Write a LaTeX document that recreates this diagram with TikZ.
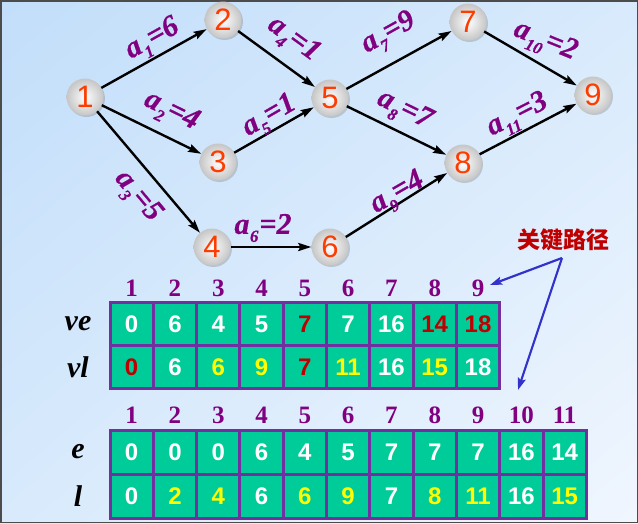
\documentclass[tikz,border=0pt]{standalone}
\usepackage{fontspec}
\setmainfont{Liberation Serif}
\setsansfont{Liberation Sans}
\newfontfamily\cjkfont{Noto Sans CJK SC}
\newfontfamily\labfont{Liberation Serif}[UprightFont=* Bold Italic, FakeBold=0.6]
\usetikzlibrary{arrows.meta,shadows,shadings}
\definecolor{bgA}{RGB}{194,222,250}
\definecolor{bgM}{RGB}{216,234,252}
\definecolor{bgB}{RGB}{240,246,254}
\definecolor{numred}{RGB}{255,60,0}
\definecolor{lblpurple}{RGB}{128,0,128}
\definecolor{cellgreen}{RGB}{0,204,153}
\definecolor{cellborder}{RGB}{112,48,160}
\definecolor{cw}{RGB}{255,255,255}
\definecolor{cr}{RGB}{192,0,0}
\definecolor{cy}{RGB}{255,255,0}
\definecolor{keyred}{RGB}{192,0,0}
\definecolor{keyblue}{RGB}{51,51,204}
\newcommand\ea[2]{a\kern0.5pt\raisebox{-8pt}{\fontsize{17}{17}\selectfont #1}\kern1pt=#2}
\tikzset{
  vnode/.style={circle, minimum size=37pt, inner sep=0pt, shading=radial,
    inner color=white, outer color=gray!45,
    drop shadow={shadow xshift=1.5pt, shadow yshift=-1.5pt, opacity=0.35},
    text=numred, font=\sffamily\fontsize{31}{31}\selectfont},
  earrow/.style={draw=black, line width=2.4pt, -{Stealth[length=13pt,width=8pt,inset=2pt]}},
  elab/.style={text=lblpurple, inner sep=0pt, font=\labfont\fontsize{30}{30}\selectfont},
  hdr/.style={text=lblpurple, inner sep=0pt, font=\bfseries\fontsize{25}{25}\selectfont},
  rowlab/.style={text=black, inner sep=0pt, font=\bfseries\itshape\fontsize{30}{30}\selectfont},
  cellbox/.style={draw=cellborder, line width=3pt, fill=cellgreen, inner sep=0pt,
    minimum width=43.3pt, font=\sffamily\bfseries\fontsize{24}{24}\selectfont},
  keytext/.style={text=keyred, inner sep=1pt, font=\cjkfont\bfseries\fontsize{23}{23}\selectfont},
  keyarrow/.style={draw=keyblue, line width=2.2pt, -{Stealth[length=12pt,width=8pt,inset=2pt]}}
}
\begin{document}
\begin{tikzpicture}[x=1pt,y=-1pt]
\useasboundingbox (0,0) rectangle (638,523);
\shade[upper left=bgA, upper right=bgM, lower left=bgM, lower right=bgB] (0,0) rectangle (638,523);
\draw[gray!60!black, line width=1.5pt] (0.75,0.75) rectangle (637.25,522.25);

% vertices
\node[vnode] (n1) at (85,97) {1};
\node[vnode] (n2) at (223,20) {2};
\node[vnode] (n3) at (218,162) {3};
\node[vnode] (n4) at (212,247) {4};
\node[vnode] (n5) at (330,98) {5};
\node[vnode] (n6) at (330,247) {6};
\node[vnode] (n7) at (468,22) {7};
\node[vnode] (n8) at (463,163) {8};
\node[vnode] (n9) at (593,95) {9};

% edges
\draw[earrow] (n1) -- (n2);
\draw[earrow] (n1) -- (n3);
\draw[earrow] (n1) -- (n4);
\draw[earrow] (n2) -- (n5);
\draw[earrow] (n3) -- (n5);
\draw[earrow] (n4) -- (n6);
\draw[earrow] (n5) -- (n7);
\draw[earrow] (n5) -- (n8);
\draw[earrow] (n6) -- (n8);
\draw[earrow] (n7) -- (n9);
\draw[earrow] (n8) -- (n9);

% edge labels
\node[elab, rotate=29] (l1) at (153,40) {\ea{1}{6}};
\node[elab, rotate=-26] (l2) at (171,112) {\ea{2}{4}};
\node[elab, rotate=-50] (l3) at (137,197) {\ea{3}{5}};
\node[elab, rotate=-36] (l4) at (293,40) {\ea{4}{1}};
\node[elab, rotate=30] (l5) at (270,117) {\ea{5}{1}};
\node[elab] (l6) at (263,228) {\ea{6}{2}};
\node[elab, rotate=29] (l7) at (389,34) {\ea{7}{9}};
\node[elab, rotate=-26] (l8) at (404,111) {\ea{8}{7}};
\node[elab, rotate=30] (l9) at (398,194) {\ea{9}{4}};
\node[elab, rotate=-22] (l10) at (545,42) {\ea{10}{2}};
\node[elab, rotate=27] (l11) at (518,116) {\ea{11}{3}};

% table 1
\foreach \i in {1,...,9} {
  \node[hdr] (ha\i) at ({88.35+43.3*\i},288) {\i};
}
\node[rowlab] (rve) at (78,324) {ve};
\node[rowlab] (rvl) at (78,367) {vl};
\foreach \v/\c [count=\i] in {0/cw,6/cw,4/cw,5/cw,7/cr,7/cw,16/cw,14/cr,18/cr} {
  \node[cellbox, minimum height=43pt, text=\c] (ve\i) at ({88.35+43.3*\i},324) {\v};
}
\foreach \v/\c [count=\i] in {0/cr,6/cw,6/cy,9/cy,7/cr,11/cy,16/cw,15/cy,18/cw} {
  \node[cellbox, minimum height=43pt, text=\c] (vl\i) at ({88.35+43.3*\i},367) {\v};
}

% table 2
\foreach \i in {1,...,11} {
  \node[hdr] (hb\i) at ({88.35+43.3*\i},415) {\i};
}
\node[rowlab] (re) at (78,452) {e};
\node[rowlab] (rl) at (78,496) {l};
\foreach \v/\c [count=\i] in {0/cw,0/cw,0/cw,6/cw,4/cw,5/cw,7/cw,7/cw,7/cw,16/cw,14/cw} {
  \node[cellbox, minimum height=44pt, text=\c] (e\i) at ({88.35+43.3*\i},452) {\v};
}
\foreach \v/\c [count=\i] in {0/cw,2/cy,4/cy,6/cw,6/cy,9/cy,7/cw,8/cy,11/cy,16/cw,15/cy} {
  \node[cellbox, minimum height=44pt, text=\c] (l\i) at ({88.35+43.3*\i},496) {\v};
}

% critical path note
\node[keytext] (key) at (563,240) {关键路径};
\coordinate (kstart) at (562,258);
\coordinate (ktA) at (490,285);
\coordinate (ktB) at (518,390);
\draw[keyarrow] (kstart) -- (ktA);
\draw[keyarrow] (kstart) -- (ktB);
\end{tikzpicture}
\end{document}
